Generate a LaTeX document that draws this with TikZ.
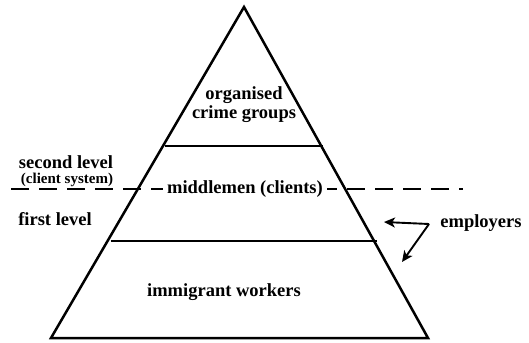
\documentclass[tikz,border=0pt]{standalone}
\usepackage{fontspec}
\setmainfont{Liberation Serif}
\usetikzlibrary{arrows.meta}
\begin{document}
\begin{tikzpicture}[x=1pt,y=-1pt,
    lbl/.style={font=\fontsize{18.5}{19}\selectfont\bfseries, inner sep=1pt},
    small/.style={font=\fontsize{15}{16}\selectfont\bfseries, inner sep=0.5pt},
    emparrow/.style={line width=1.9pt, -{Stealth[length=11pt,width=10pt,inset=3pt]}}]
            \useasboundingbox (0,0) rectangle (529,342);%

            % Pyramid corners
            \coordinate (top) at (244,7);%
            \coordinate (bl) at (51,338);%
            \coordinate (br) at (428,338);%

            % Drawing the pyramid
            \draw [line width=2.5pt, line join=miter] (top) -- (br) -- (bl) -- cycle;%

            % Drawing the upper and lower dividing lines
            \draw [line width=2.5pt] (164.8,146) -- (323.2,146);%
            \draw [line width=2.5pt] (110.7,241) -- (377.3,241);%

            % Drawing the level border (dashed)
            \coordinate (dl) at (11,189);%
            \coordinate (dr) at (463,189);%
            \draw [line width=2.5pt, dash pattern=on 18pt off 10pt] (dl) -- (dr);%

            % Marking the layers
            \node [lbl, align=center] (crime) at (244,105) {organised\\crime groups};%
            \node [lbl, fill=white, inner xsep=4pt] (middle) at (245,189) {middlemen (clients)};%
            \node [lbl] (workers) at (224,292) {immigrant workers};%

            % Marking the levels
            \node [lbl, inner sep=0pt] (second) at (66,162) {second level};%
            \node [small] (client) at (67,180) {(client system)};%
            \node [lbl] (first) at (55,219) {first level};%

            % Marking employers with two arrows
            \node [lbl] (employers) at (481,223) {employers};%
            \coordinate (fork) at (429,224);%
            \coordinate (tipa) at (384,222);%
            \coordinate (tipb) at (402,262);%
            \draw [emparrow] (fork) -- (tipa);%
            \draw [emparrow] (fork) -- (tipb);%
\end{tikzpicture}
\end{document}
